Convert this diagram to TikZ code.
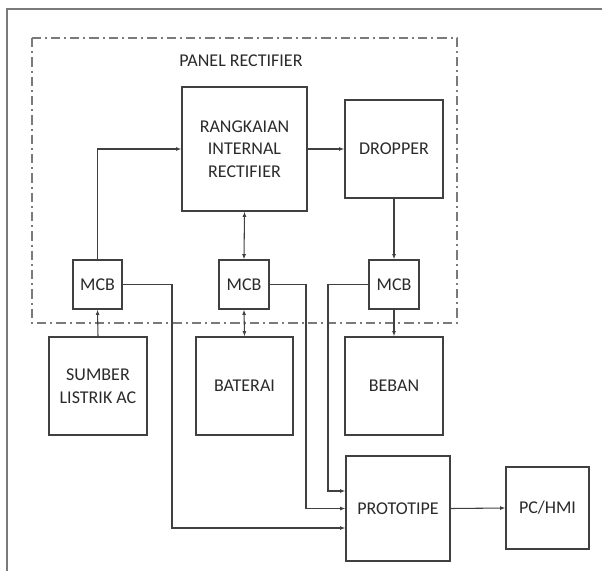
\documentclass[tikz,border=0pt]{standalone}
\usepackage{fontspec}
\setmainfont{Carlito}
\usetikzlibrary{arrows.meta}
\definecolor{ln}{HTML}{404040}
\definecolor{tx}{HTML}{2A2A2A}
\definecolor{fr}{HTML}{7A7A7A}
\begin{document}
\begin{tikzpicture}[x=0.75pt,y=-0.75pt,
  blk/.style={draw=ln, line width=0.9pt, align=center, text=tx, inner sep=0pt,
    font=\fontsize{13.5}{17}\selectfont},
  conn/.style={draw=ln, line width=0.8pt},
  arr/.style={conn, -{Latex[length=4pt,width=3pt]}},
  darr/.style={conn, {Latex[length=4pt,width=3pt]}-{Latex[length=4pt,width=3pt]}}]
\useasboundingbox (0,0) rectangle (602,571);
% outer frame
\draw[fr, line width=1.2pt] (7,571) -- (7,9) -- (602,9);
% panel
\draw[fr, line width=0.9pt, dash pattern=on 7pt off 3pt on 1.5pt off 3pt] (32,38) rectangle (457,323);
\node[text=tx, font=\fontsize{13.5}{17}\selectfont] (lbl) at (241,61) {PANEL RECTIFIER};
% blocks
\node[blk, minimum width=93.75pt, minimum height=93pt] (RIR) at (244.5,149) {RANGKAIAN\\INTERNAL\\RECTIFIER};
\node[blk, minimum width=73.5pt, minimum height=73.5pt] (DROP) at (394,149) {DROPPER};
\node[blk, minimum width=36.75pt, minimum height=36.75pt] (MCB1) at (97.5,284.5) {MCB};
\node[blk, minimum width=37.5pt, minimum height=36.75pt] (MCB2) at (244,284.5) {MCB};
\node[blk, minimum width=37.5pt, minimum height=36.75pt] (MCB3) at (394,284.5) {MCB};
\node[blk, minimum width=73.5pt, minimum height=73.5pt] (SUM) at (98,386) {SUMBER\\LISTRIK AC};
\node[blk, minimum width=72.75pt, minimum height=73.5pt] (BAT) at (244.5,386) {BATERAI};
\node[blk, minimum width=73.5pt, minimum height=73.5pt] (BEB) at (394,386) {BEBAN};
\node[blk, minimum width=78pt, minimum height=78.75pt] (PRO) at (398,508.5) {PROTOTIPE};
\node[blk, minimum width=62.25pt, minimum height=61.5pt] (PC) at (547.5,508) {PC/HMI};
% connectors
\draw[arr] (MCB1.north) |- (RIR.west);
\draw[darr] (RIR.south) -- (MCB2.north);
\draw[arr] (RIR.east) -- (DROP.west);
\draw[arr] (DROP.south) -- (MCB3.north);
\draw[arr] (SUM.north) -- (MCB1.south);
\draw[darr] (MCB2.south) -- (BAT.north);
\draw[arr] (MCB3.south) -- (BEB.north);
\coordinate (c1) at (172,528);
\coordinate (c2) at (306,508.5);
\coordinate (c3) at (328,491);
\draw[arr] (MCB1.east) -| (c1) -- (c1 -| PRO.west);
\draw[arr] (MCB2.east) -| (c2) -- (PRO.west);
\draw[arr] (MCB3.west) -| (c3) -- (c3 -| PRO.west);
\draw[arr] (PRO.east) -- (PC.west);
\end{tikzpicture}
\end{document}
